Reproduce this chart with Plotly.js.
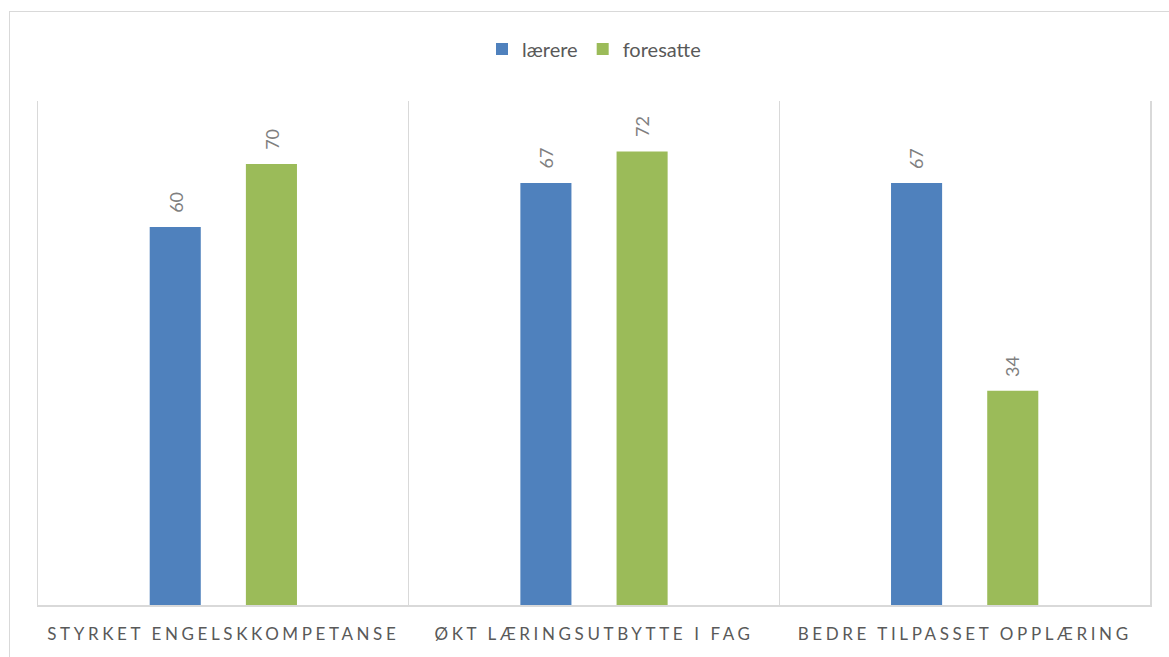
<!DOCTYPE html>
<html>
<head>
<meta charset="utf-8">
<script src="https://cdn.plot.ly/plotly-3.0.1.min.js"></script>
<style>
  html, body { margin: 0; padding: 0; background: #ffffff; overflow: hidden; }
  #wrap { position: relative; width: 1169px; height: 657px; }
  #frame { position: absolute; left: 9px; top: 11px; width: 1200px; height: 700px;
           border: 1.5px solid #d9d9d9; box-sizing: border-box; pointer-events: none; }
  #chart { position: absolute; left: 0; top: 0; width: 1169px; height: 657px; }
  .xtick text { letter-spacing: 3.6px; }
</style>
</head>
<body>
<div id="wrap">
  <div id="chart"></div>
  <div id="frame"></div>
</div>
<script>
const categories = ["STYRKET ENGELSKKOMPETANSE", "ØKT LÆRINGSUTBYTTE I FAG", "BEDRE TILPASSET OPPLÆRING"];
const seriesNames = ["lærere", "foresatte"];
const laerere = [60, 67, 67];
const foresatte = [70, 72, 34];

const colors = ["#4f81bd", "#9bbb59"];
const allSeries = [laerere, foresatte];

const traces = allSeries.map((vals, i) => ({
  type: "bar",
  name: seriesNames[i],
  x: categories,
  y: vals,
  marker: { color: colors[i] },
  hoverinfo: "x+y+name"
}));

const shifts = [-48, 48];
const annotations = [];
allSeries.forEach((vals, i) => {
  vals.forEach((v, j) => {
    annotations.push({
      x: categories[j], y: v, xref: "x", yref: "y",
      text: String(v), showarrow: false,
      textangle: -90, xanchor: "center", yanchor: "bottom",
      xshift: shifts[i], yshift: 12,
      font: { family: "Lato, 'Open Sans', sans-serif", size: 18, color: "#7f7f7f" }
    });
  });
});

const layout = {
  width: 1169, height: 657,
  margin: { l: 38, r: 19, t: 101, b: 52, pad: 0 },
  paper_bgcolor: "rgba(0,0,0,0)",
  plot_bgcolor: "rgba(0,0,0,0)",
  barmode: "group",
  bargap: 0.481,
  bargroupgap: 0.469,
  font: { family: "Lato, 'Open Sans', sans-serif", color: "#595959" },
  showlegend: true,
  legend: {
    orientation: "h", x: 0.5, xanchor: "center", y: 1.103, yanchor: "middle",
    font: { size: 20, color: "#595959" }, bgcolor: "rgba(0,0,0,0)"
  },
  xaxis: {
    type: "category",
    tickson: "boundaries",
    showgrid: true, gridcolor: "#d9d9d9", gridwidth: 1.5,
    showline: true, linecolor: "#d9d9d9", linewidth: 1.5,
    ticks: "", ticklen: 0,
    ticklabelstandoff: 13,
    tickfont: { size: 17, color: "#595959" },
    automargin: false,
    range: [-0.5, 2.5],
    fixedrange: true
  },
  yaxis: {
    range: [0, 80],
    showgrid: false, zeroline: false, showticklabels: false,
    showline: true, mirror: true, linecolor: "#d9d9d9", linewidth: 1.5,
    ticks: "", fixedrange: true
  },
  annotations: annotations
};

Plotly.newPlot("chart", traces, layout, { displayModeBar: false, staticPlot: true });
</script>
</body>
</html>
